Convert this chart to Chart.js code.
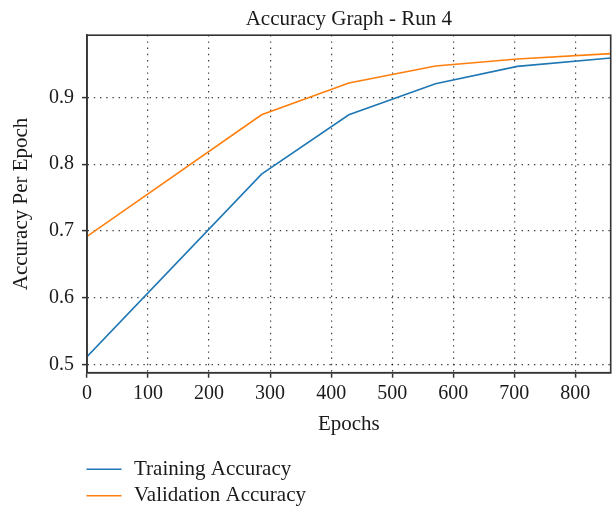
<!DOCTYPE html>
<html>
<head>
<meta charset="utf-8">
<script src="https://cdn.jsdelivr.net/npm/chart.js@4"></script>
<style>
  html, body { margin: 0; padding: 0; background: #fff; }
  #wrap { position: relative; width: 616px; height: 507px; }
</style>
</head>
<body>
<div id="wrap"><canvas id="grafica" width="616" height="507"></canvas></div>
<script>
// Datos
const epocas        = [0, 286, 429, 571, 705, 858];
const accTraining   = [0.512, 0.785, 0.874, 0.9205, 0.9464, 0.959];
const accValidation = [0.692, 0.874, 0.9215, 0.947, 0.9575, 0.9654];
const ticksX        = [0, 100, 200, 300, 400, 500, 600, 700, 800];
const ticksY        = [0.5, 0.6, 0.7, 0.8, 0.9];

const FUENTE = 'Liberation Serif';
const TINTA  = '#1a1a1a';
const EJE    = '#333333';

// ── Marco completo alrededor del área de datos ──
const marco = {
  id: 'marco',
  afterDraw(chart) {
    const { ctx, chartArea: a } = chart;
    ctx.save();
    ctx.strokeStyle = EJE;
    ctx.lineWidth = 1.6;
    ctx.strokeRect(a.left, a.top, a.right - a.left, a.bottom - a.top);
    ctx.restore();
  }
};

// ── Leyenda en dos filas, abajo a la izquierda ──
const leyendaAbajo = {
  id: 'leyendaAbajo',
  afterDraw(chart) {
    const { ctx } = chart;
    ctx.save();
    ctx.font = `21px "${FUENTE}"`;
    ctx.textBaseline = 'alphabetic';
    chart.data.datasets.forEach((ds, i) => {
      const yLinea = 469.3 + i * 26.4;
      ctx.strokeStyle = ds.borderColor;
      ctx.lineWidth = ds.borderWidth;
      ctx.beginPath();
      ctx.moveTo(86.5, yLinea);
      ctx.lineTo(121.5, yLinea);
      ctx.stroke();
      ctx.fillStyle = TINTA;
      ctx.fillText(ds.label, 134, yLinea + 5.7);
    });
    ctx.restore();
  }
};

const opcionesGrid = {
  color: 'rgba(0,0,0,0.75)',
  lineWidth: 1.2,
  tickColor: EJE,
  tickWidth: 1.5,
  tickLength: 5,
  tickBorderDash: [],
};

new Chart(document.getElementById('grafica').getContext('2d'), {
  type: 'line',
  data: {
    datasets: [
      {
        label: 'Training Accuracy',
        data: epocas.map((e, i) => ({ x: e, y: accTraining[i] })),
        borderColor: '#1f77b4',
        borderWidth: 1.6,
        pointRadius: 0,
        tension: 0,
        fill: false,
      },
      {
        label: 'Validation Accuracy',
        data: epocas.map((e, i) => ({ x: e, y: accValidation[i] })),
        borderColor: '#ff7f0e',
        borderWidth: 1.6,
        pointRadius: 0,
        tension: 0,
        fill: false,
      },
    ]
  },
  options: {
    responsive: false,
    animation: false,
    layout: { padding: { left: 0, right: 5.3, top: 0, bottom: 69.5 } },
    plugins: {
      legend: { display: false },
      tooltip: { enabled: false },
      title: {
        display: true,
        text: 'Accuracy Graph - Run 4',
        fullSize: false,
        color: TINTA,
        font: { family: FUENTE, size: 21, weight: 'normal', lineHeight: 1.2 },
        padding: { top: 7, bottom: 3 },
      }
    },
    scales: {
      x: {
        type: 'linear',
        min: 0,
        max: 858,
        afterBuildTicks: s => { s.ticks = ticksX.map(v => ({ value: v })); },
        afterFit: s => { s.height = 64.8; },
        ticks: { color: TINTA, padding: 4.5, font: { family: FUENTE, size: 20 }, maxRotation: 0 },
        grid: opcionesGrid,
        border: { display: true, color: EJE, width: 1.6, dash: [1.4, 4.8] },
        title: {
          display: true,
          text: 'Epochs',
          color: TINTA,
          font: { family: FUENTE, size: 21, lineHeight: 1.2 },
          padding: { top: 6.1, bottom: 0 },
        }
      },
      y: {
        type: 'linear',
        min: 0.488,
        max: 0.993,
        afterBuildTicks: s => { s.ticks = ticksY.map(v => ({ value: v })); },
        afterFit: s => { s.width = 87; },
        ticks: {
          color: TINTA,
          padding: 8,
          font: { family: FUENTE, size: 20 },
          callback: v => v.toFixed(1),
        },
        grid: opcionesGrid,
        border: { display: true, color: EJE, width: 1.6, dash: [1.4, 4.8] },
        title: {
          display: true,
          text: 'Accuracy Per Epoch',
          color: TINTA,
          font: { family: FUENTE, size: 21, lineHeight: 1.2 },
          padding: { top: 9.3, bottom: 14.5 },
        }
      }
    }
  },
  plugins: [marco, leyendaAbajo]
});
</script>
</body>
</html>
